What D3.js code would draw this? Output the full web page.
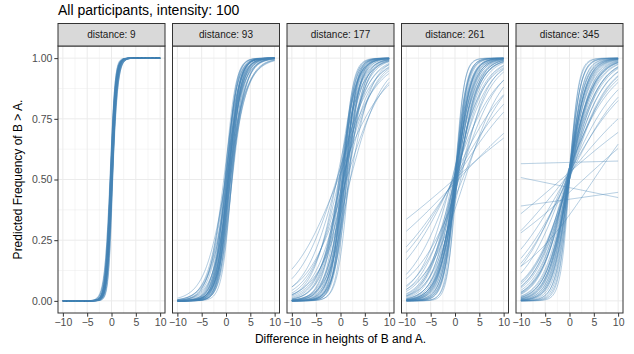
<!DOCTYPE html>
<html>
<head>
<meta charset="utf-8">
<script src="https://cdn.jsdelivr.net/npm/d3@7"></script>
<style>
  body { margin: 0; background: white; }
  svg { font-family: "Liberation Sans", Arial, sans-serif; }
</style>
</head>
<body>
<div id="chart"></div>
<script>
// facets
const distances = [9, 93, 177, 261, 345];

// per participant logistic fits: logit(p) = icept + slope * x
const slope_9 = [2.0,1.8,2.2,1.9,2.4,1.7,2.1,2.0,1.6,2.3,1.9,2.0,2.2,1.8,2.5,2.1,1.9,2.0,1.7,2.2,2.0,1.8,2.3,2.1,1.9,2.0,2.4,1.6,2.1,2.0,1.8,2.2,1.9,2.0,2.1,1.7,2.3,2.0,1.9,2.2];
const icept_9 = [0.2,-0.3,0.5,0.0,-0.4,0.3,0.1,-0.2,0.4,-0.5,0.2,0.0,-0.1,0.6,0.3,-0.3,0.1,0.4,-0.2,0.0,0.5,-0.4,0.2,0.1,-0.1,0.3,-0.6,0.2,0.0,0.4,-0.2,0.1,0.3,-0.3,0.6,0.0,-0.1,0.2,0.4,-0.2];

const slope_93 = [0.9,0.7,1.0,0.8,0.6,1.1,0.75,0.85,0.5,0.95,0.65,0.8,1.0,0.55,0.9,0.7,0.85,1.05,0.6,0.75,0.9,0.8,0.45,0.95,0.7,1.0,0.65,0.85,0.8,0.9,0.55,0.75,1.1,0.7,0.6,0.95,0.8,0.85,0.5,0.9];
const icept_93 = [-0.3,-0.1,-0.6,0.2,-0.4,-0.2,-0.7,0.1,-0.2,-0.9,0.3,-0.4,-0.1,-0.5,0.0,-0.8,-0.3,-1.2,0.1,-0.5,-0.4,-0.6,0.0,0.2,-0.3,-0.8,-0.6,-0.2,-1.0,-0.5,0.1,-0.3,-0.4,-0.9,-0.1,-0.6,0.0,-0.7,-0.3,-1.1];

const slope_177 = [0.8,0.5,0.35,0.9,0.6,0.25,0.7,1.0,0.45,0.3,0.65,0.85,0.4,0.55,0.95,0.3,0.75,0.5,0.6,0.2,0.9,0.45,0.7,0.35,0.8,0.55,1.0,0.4,0.65,0.25,0.85,0.5,0.75,0.6,0.3,0.9,0.45,0.7,0.55,0.8,0.35,0.65];
const icept_177 = [-0.4,0.0,-0.2,-0.9,0.1,0.2,-0.5,-1.2,-0.3,-0.6,0.0,-0.8,0.3,-0.4,-0.6,-0.1,-1.0,-0.5,0.2,0.1,-0.3,-0.9,-0.2,0.1,-0.7,-0.6,-0.5,-0.2,-1.1,-0.3,-0.4,0.1,-0.9,-0.3,0.2,-1.5,0.0,-0.4,-0.8,-0.2,-0.4,-0.6];

const slope_261 = [0.0695,0.0855,0.125,0.142,0.166,0.2,0.22,0.25,0.3,0.35,0.4,0.45,0.5,0.55,0.6,0.65,0.7,0.8,0.9,1.0,0.3,0.4,0.5,0.6,0.7,0.35,0.45,0.55,0.65,0.75,0.85,0.5,0.6,0.4,0.3,0.25,0.7,0.9,0.55,0.45,0.8,0.35,0.6,0.5,1.2,1.1];
const icept_261 = [0.015,-0.055,0.0,0.03,0.07,-0.3,0.1,-0.2,0.0,-0.4,0.1,-0.2,-0.1,0.0,-0.3,0.1,-0.2,-0.1,0.0,-0.4,-0.2,0.2,-0.3,0.1,0.0,-0.1,0.1,-0.2,0.0,-0.3,-0.1,0.1,0.0,-0.1,0.2,-0.5,-0.2,-0.1,0.0,-0.2,0.1,0.0,-0.1,-0.3,-0.2,0.0];

const slope_345 = [0.00225,-0.0166,0.0116,0.0734,0.07,0.143,0.12,0.18,0.2,0.25,0.3,0.35,0.4,0.45,0.5,0.55,0.6,0.7,0.8,0.9,0.22,0.28,0.32,0.38,0.42,0.48,0.52,0.58,0.65,0.75,0.3,0.35,0.4,0.45,0.5,0.25,0.6,0.85,0.33,0.27,0.16,0.1,0.55,0.37,0.43,0.62,1.0,1.1];
const icept_345 = [0.284,-0.134,-0.328,-0.21,0.12,0.12,-0.6,0.1,0.2,0.0,0.1,0.2,0.1,0.0,0.2,0.1,0.0,0.1,0.2,0.0,0.15,0.05,0.1,0.2,0.0,0.1,0.15,0.05,0.1,0.0,0.2,0.1,0.0,0.15,0.1,0.05,0.2,0.1,0.0,0.1,0.05,0.1,0.15,0.2,0.05,0.1,0.1,0.0];

const xTicks = [-10, -5, 0, 5, 10];
const yTicks = [0, 0.25, 0.5, 0.75, 1];

const fits = [
  { distance: 9, slope: slope_9, icept: icept_9 },
  { distance: 93, slope: slope_93, icept: icept_93 },
  { distance: 177, slope: slope_177, icept: icept_177 },
  { distance: 261, slope: slope_261, icept: icept_261 },
  { distance: 345, slope: slope_345, icept: icept_345 },
];

const w = 634, h = 354;
const m = { top: 46, right: 11, bottom: 313, left: 58 };
const gap = 7.5;
const stripH = 22.5;
const pw = (w - m.right - m.left - gap * 4) / 5;

const svg = d3.select("#chart").append("svg")
  .attr("width", w).attr("height", h)
  .style("background", "white");

const y = d3.scaleLinear().domain([-0.05, 1.05]).range([m.bottom, m.top]);
const xgrid = d3.range(-10, 10.01, 0.2);

fits.forEach((f, i) => {
  const x0 = m.left + i * (pw + gap);
  const x = d3.scaleLinear().domain([-11, 11]).range([x0, x0 + pw]);
  const g = svg.append("g");

  // minor grid
  g.selectAll(".minx").data([-7.5, -2.5, 2.5, 7.5]).join("line")
    .attr("x1", d => x(d)).attr("x2", d => x(d))
    .attr("y1", m.top).attr("y2", m.bottom)
    .attr("stroke", "#ebebeb").attr("stroke-width", 0.5);
  g.selectAll(".miny").data([0.125, 0.375, 0.625, 0.875]).join("line")
    .attr("y1", d => y(d)).attr("y2", d => y(d))
    .attr("x1", x0).attr("x2", x0 + pw)
    .attr("stroke", "#ebebeb").attr("stroke-width", 0.5);
  // major grid
  g.append("g").selectAll("line").data(xTicks).join("line")
    .attr("x1", d => x(d)).attr("x2", d => x(d))
    .attr("y1", m.top).attr("y2", m.bottom)
    .attr("stroke", "#ebebeb").attr("stroke-width", 1);
  g.append("g").selectAll("line").data(yTicks).join("line")
    .attr("y1", d => y(d)).attr("y2", d => y(d))
    .attr("x1", x0).attr("x2", x0 + pw)
    .attr("stroke", "#ebebeb").attr("stroke-width", 1);

  // curves
  const curves = f.slope.map((b, j) => xgrid.map(v => [v, 1 / (1 + Math.exp(-(f.icept[j] + b * v)))]));
  const line = d3.line().x(d => x(d[0])).y(d => y(d[1]));
  g.append("g").selectAll("path").data(curves).join("path")
    .attr("d", line)
    .attr("fill", "none")
    .attr("stroke", "steelblue")
    .attr("stroke-opacity", 0.45)
    .attr("stroke-width", 0.9);

  // panel border
  g.append("rect")
    .attr("x", x0).attr("y", m.top).attr("width", pw).attr("height", m.bottom - m.top)
    .attr("fill", "none").attr("stroke", "#333333").attr("stroke-width", 1);

  // strip
  g.append("rect")
    .attr("x", x0).attr("y", m.top - stripH).attr("width", pw).attr("height", stripH)
    .attr("fill", "#d9d9d9").attr("stroke", "#333333").attr("stroke-width", 1);
  g.append("text")
    .attr("x", x0 + pw / 2).attr("y", m.top - stripH / 2)
    .attr("dy", "0.35em")
    .attr("text-anchor", "middle")
    .attr("font-size", 10)
    .attr("fill", "#1a1a1a")
    .text(`distance: ${f.distance}`);

  // x axis
  const xa = g.append("g")
    .attr("transform", `translate(0,${m.bottom})`)
    .call(d3.axisBottom(x).tickValues(xTicks).tickSize(3.7).tickPadding(2));
  xa.select(".domain").remove();
  xa.selectAll("line").attr("stroke", "#333333");
  xa.selectAll("text").attr("fill", "#4d4d4d").attr("font-size", 10.5)
    .attr("font-family", "Liberation Sans, Arial, sans-serif");

  if (i === 0) {
    const ya = g.append("g")
      .attr("transform", `translate(${x0},0)`)
      .call(d3.axisLeft(y).tickValues(yTicks).tickFormat(d3.format(".2f")).tickSize(3.7).tickPadding(2));
    ya.select(".domain").remove();
    ya.selectAll("line").attr("stroke", "#333333");
    ya.selectAll("text").attr("fill", "#4d4d4d").attr("font-size", 10.5)
      .attr("font-family", "Liberation Sans, Arial, sans-serif");
  }
});

// titles
svg.append("text")
  .attr("x", m.left).attr("y", 15)
  .attr("font-size", 14)
  .attr("fill", "black")
  .text("All participants, intensity: 100");

svg.append("text")
  .attr("x", (m.left + w - m.right) / 2).attr("y", 343)
  .attr("text-anchor", "middle")
  .attr("font-size", 12)
  .attr("fill", "black")
  .text("Difference in heights of B and A.");

svg.append("text")
  .attr("transform", `translate(22,${(m.top + m.bottom) / 2})rotate(-90)`)
  .attr("text-anchor", "middle")
  .attr("font-size", 12)
  .attr("fill", "black")
  .text("Predicted Frequency of B > A.");
</script>
</body>
</html>
